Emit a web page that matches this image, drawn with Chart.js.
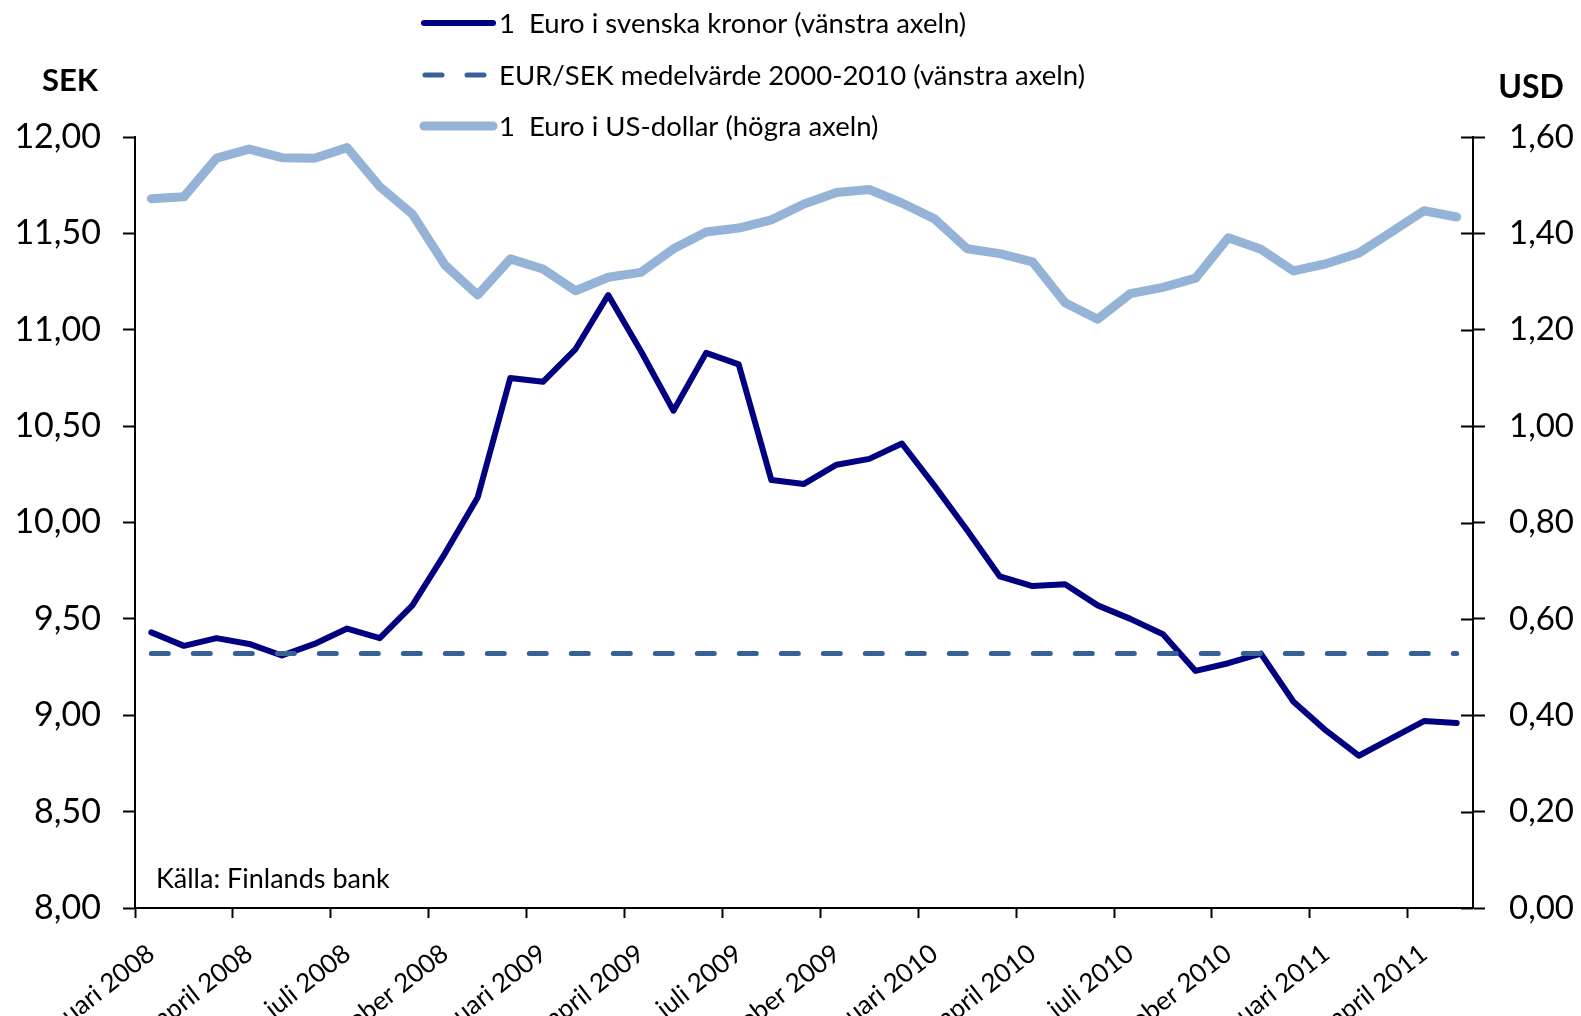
<!DOCTYPE html>
<html lang="sv">
<head>
<meta charset="utf-8">
<title>Euro mot kronor och dollar 2008–2011</title>
<script src="https://cdn.jsdelivr.net/npm/chart.js@4.4.1/dist/chart.umd.min.js"></script>
<style>
  html, body { margin: 0; padding: 0; background: #fff; }
  #wrap { width: 1581px; height: 1016px; overflow: hidden; }
</style>
</head>
<body>
<div id="wrap"><canvas id="chart" width="1581" height="1016"></canvas></div>
<script>
// Månader januari 2008 – maj 2011
const monthNames = ['januari', 'februari', 'mars', 'april', 'maj', 'juni',
                    'juli', 'augusti', 'september', 'oktober', 'november', 'december'];
const firstYear = 2008;
const monthCount = 41;
const categories = [];
for (let i = 0; i < monthCount; i++) {
  categories.push(monthNames[i % 12] + ' ' + (firstYear + Math.floor(i / 12)));
}

// 1 euro i svenska kronor (vänstra axeln)
const eurSek = [9.43, 9.36, 9.40, 9.37, 9.31, 9.37, 9.45, 9.40, 9.57, 9.84,
                10.13, 10.75, 10.73, 10.90, 11.18, 10.89, 10.58, 10.88, 10.82, 10.22,
                10.20, 10.30, 10.33, 10.41, 10.19, 9.96, 9.72, 9.67, 9.68, 9.57,
                9.50, 9.42, 9.23, 9.27, 9.32, 9.07, 8.92, 8.79, 8.88, 8.97, 8.96];

// EUR/SEK medelvärde 2000–2010 (vänstra axeln)
const eurSekAverage = 9.32;

// 1 euro i US-dollar (högra axeln)
const eurUsd = [1.472, 1.476, 1.556, 1.575, 1.557, 1.556, 1.578, 1.497, 1.440, 1.334,
                1.272, 1.347, 1.326, 1.281, 1.309, 1.319, 1.368, 1.403, 1.411, 1.428,
                1.461, 1.485, 1.491, 1.463, 1.430, 1.368, 1.358, 1.341, 1.256, 1.222,
                1.275, 1.288, 1.307, 1.391, 1.367, 1.322, 1.337, 1.359, 1.403, 1.447, 1.434];

const seriesLabels = [
  '1  Euro i svenska kronor (vänstra axeln)',
  'EUR/SEK medelvärde 2000-2010 (vänstra axeln)',
  '1  Euro i US-dollar (högra axeln)'
];
const sourceNote = 'Källa: Finlands bank';
const leftTitle = 'SEK';
const rightTitle = 'USD';

const FONT = 'Lato, "Open Sans", "DejaVu Sans", sans-serif';
const NAVY = '#000080';
const STEEL = '#376196';
const LIGHT = '#95B3D7';

const fmt = (v, d) => v.toFixed(d).replace('.', ',');

// Förklaring, axelrubriker och källa
const annotations = {
  id: 'annotations',
  afterDraw(chart) {
    const ctx = chart.ctx;
    const area = chart.chartArea;
    ctx.save();

    // inre halvan av skalstrecken på högra axeln
    const right = chart.scales.y1;
    ctx.strokeStyle = '#000';
    ctx.lineWidth = 2;
    right.ticks.forEach((t) => {
      const y = Math.round(right.getPixelForValue(t.value)) + 0.5;
      ctx.beginPath();
      ctx.moveTo(area.right - 12, y);
      ctx.lineTo(area.right, y);
      ctx.stroke();
    });

    // förklaring
    const rows = [23, 75, 126];
    chart.data.datasets.forEach((ds, i) => {
      const y = rows[i];
      ctx.beginPath();
      ctx.lineWidth = ds.borderWidth;
      ctx.strokeStyle = ds.borderColor;
      ctx.lineCap = 'round';
      ctx.setLineDash(ds.borderDash || []);
      if (ds.borderDash && ds.borderDash.length) {
        ctx.moveTo(425, y);
        ctx.lineTo(486, y);
      } else {
        ctx.moveTo(424, y);
        ctx.lineTo(493, y);
      }
      ctx.stroke();
      ctx.setLineDash([]);
      ctx.fillStyle = '#000';
      ctx.font = '27.5px ' + FONT;
      ctx.textAlign = 'left';
      ctx.textBaseline = 'middle';
      ctx.fillText(ds.label, 499, y + 1);
    });

    // axelrubriker
    ctx.font = 'bold 31px ' + FONT;
    ctx.textAlign = 'center';
    ctx.textBaseline = 'middle';
    ctx.fillText(leftTitle, 70, 81);
    ctx.font = 'bold 32px ' + FONT;
    ctx.fillText(rightTitle, 1531, 88);

    // källa
    ctx.font = '27px ' + FONT;
    ctx.textAlign = 'left';
    ctx.textBaseline = 'alphabetic';
    ctx.fillText(sourceNote, area.left + 21, area.bottom - 20);
    ctx.restore();
  }
};

new Chart(document.getElementById('chart'), {
  type: 'line',
  data: {
    labels: categories,
    datasets: [
      {
        label: seriesLabels[0],
        data: eurSek,
        yAxisID: 'y',
        borderColor: NAVY,
        borderWidth: 6,
        order: 1
      },
      {
        label: seriesLabels[1],
        data: categories.map(() => eurSekAverage),
        yAxisID: 'y',
        borderColor: STEEL,
        borderWidth: 5,
        borderDash: [17, 25],
        borderCapStyle: 'round',
        order: 0
      },
      {
        label: seriesLabels[2],
        data: eurUsd,
        yAxisID: 'y1',
        borderColor: LIGHT,
        borderWidth: 9,
        order: 2
      }
    ]
  },
  options: {
    responsive: false,
    animation: false,
    devicePixelRatio: 1,
    layout: { padding: { top: 137, left: 0, right: 0, bottom: 0 } },
    elements: {
      point: { radius: 0, hoverRadius: 0 },
      line: { tension: 0, borderJoinStyle: 'round', borderCapStyle: 'round', fill: false }
    },
    plugins: {
      legend: { display: false },
      tooltip: { enabled: false },
      title: { display: false }
    },
    scales: {
      x: {
        type: 'category',
        offset: true,
        grid: {
          offset: true,
          drawOnChartArea: false,
          drawTicks: true,
          tickLength: 10,
          tickWidth: 2,
          tickColor: (c) => (c.index !== undefined && c.index % 3 === 0) ? '#000' : 'rgba(0,0,0,0)'
        },
        border: { color: '#000', width: 2 },
        ticks: {
          autoSkip: false,
          minRotation: 38,
          maxRotation: 38,
          padding: 20,
          color: '#000',
          font: { family: FONT, size: 26 },
          callback: function (value, index) {
            return index % 3 === 0 ? this.getLabelForValue(value) : '';
          }
        },
        afterFit: (s) => { s.height = 108; s.paddingLeft = 0; s.paddingRight = 0; }
      },
      y: {
        position: 'left',
        min: 8,
        max: 12,
        grid: { drawOnChartArea: false, tickLength: 12, tickWidth: 2, tickColor: '#000' },
        border: { color: '#000', width: 2 },
        ticks: {
          stepSize: 0.5,
          padding: 22,
          color: '#000',
          font: { family: FONT, size: 34 },
          callback: (v) => fmt(v, 2)
        },
        afterFit: (s) => { s.width = 135; s.paddingTop = 0; s.paddingBottom = 0; }
      },
      y1: {
        position: 'right',
        min: 0,
        max: 1.6,
        grid: { drawOnChartArea: false, tickLength: 12, tickWidth: 2, tickColor: '#000' },
        border: { color: '#000', width: 2 },
        ticks: {
          stepSize: 0.2,
          padding: 24,
          color: '#000',
          font: { family: FONT, size: 33 },
          callback: (v) => fmt(v, 2)
        },
        afterFit: (s) => { s.width = 108; s.paddingTop = 0; s.paddingBottom = 0; }
      }
    }
  },
  plugins: [annotations]
});
</script>
</body>
</html>
